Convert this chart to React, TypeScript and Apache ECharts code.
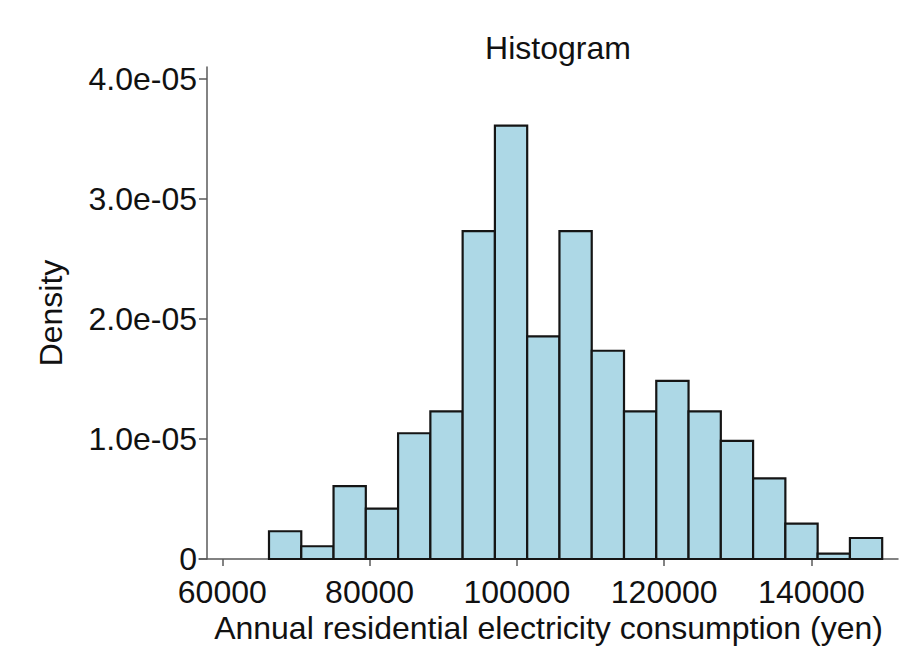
import React, { useEffect, useRef } from "react";
import * as echarts from "echarts";

const binEdges = [66340, 70722, 75104, 79486, 83868, 88250, 92632, 97014, 101396, 105778, 110160, 114542, 118924, 123306, 127688, 132070, 136452, 140834, 145216, 149598];
const densities = [2.31e-6, 1.06e-6, 6.07e-6, 4.2e-6, 1.047e-5, 1.23e-5, 2.731e-5, 3.608e-5, 1.854e-5, 2.731e-5, 1.734e-5, 1.23e-5, 1.484e-5, 1.23e-5, 9.83e-6, 6.71e-6, 2.95e-6, 4.5e-7, 1.75e-6];
const xTickValues = [60000, 80000, 100000, 120000, 140000];
const yTickValues = [0, 1e-5, 2e-5, 3e-5, 4e-5];
const yTickLabels = ["0", "1.0e-05", "2.0e-05", "3.0e-05", "4.0e-05"];

const FONT = "Liberation Sans, Arial, sans-serif";

export default function App() {
  const ref = useRef<HTMLDivElement>(null);
  useEffect(() => {
    if (!ref.current) return;
    const chart = echarts.init(ref.current, undefined, { renderer: "svg" });
    const data = densities.map((d, i) => [binEdges[i], binEdges[i + 1], d]);
    chart.setOption({
      animation: false,
      backgroundColor: "#ffffff",
      title: {
        text: "Histogram",
        left: 553,
        top: 27,
        textAlign: "center",
        textStyle: { fontFamily: FONT, fontSize: 32, fontWeight: "normal", color: "#111" },
      },
      grid: { left: 199, right: 11, top: 67, bottom: 104, containLabel: false },
      xAxis: {
        type: "value",
        min: 56836,
        max: 151745,
        splitLine: { show: false },
        axisLine: { show: true, lineStyle: { color: "#5a5a5a", width: 1.5 } },
        axisTick: { show: true, length: 7, lineStyle: { color: "#5a5a5a", width: 1.5 }, customValues: xTickValues },
        axisLabel: {
          customValues: xTickValues,
          margin: 20,
          lineHeight: 25,
          fontFamily: FONT,
          fontSize: 32,
          color: "#111",
          formatter: (v: number) => String(v),
        },
        name: "Annual residential electricity consumption (yen)",
        nameLocation: "middle",
        nameGap: 52,
        nameTextStyle: { fontFamily: FONT, fontSize: 32, color: "#111" },
      },
      yAxis: {
        type: "value",
        min: 0,
        max: 4.097e-5,
        offset: -8,
        splitLine: { show: false },
        axisLine: { show: true, lineStyle: { color: "#5a5a5a", width: 1.5 } },
        axisTick: { show: true, length: 8, lineStyle: { color: "#5a5a5a", width: 1.5 }, customValues: yTickValues },
        axisLabel: {
          customValues: yTickValues,
          margin: 10,
          lineHeight: 25,
          fontFamily: FONT,
          fontSize: 32,
          color: "#111",
          formatter: (v: number) => {
            const idx = yTickValues.findIndex((t) => Math.abs(t - v) < 1e-9);
            return idx >= 0 ? yTickLabels[idx] : "";
          },
        },
        name: "Density",
        nameLocation: "middle",
        nameGap: 140,
        nameRotate: 90,
        nameTextStyle: { fontFamily: FONT, fontSize: 32, color: "#111" },
      },
      series: [
        {
          type: "custom",
          data,
          encode: { x: [0, 1], y: 2 },
          renderItem: (params: any, api: any) => {
            const p0 = api.coord([api.value(0), api.value(2)]);
            const p1 = api.coord([api.value(1), 0]);
            return {
              type: "rect",
              shape: { x: p0[0], y: p0[1], width: p1[0] - p0[0], height: p1[1] - p0[1] },
              style: { fill: "#ADD8E6", stroke: "#151515", lineWidth: 2.2 },
            };
          },
        },
      ],
    });
    return () => chart.dispose();
  }, []);
  return (
    <div
      ref={ref}
      style={{ position: "fixed", left: 0, top: 0, width: 909, height: 663 }}
    />
  );
}
